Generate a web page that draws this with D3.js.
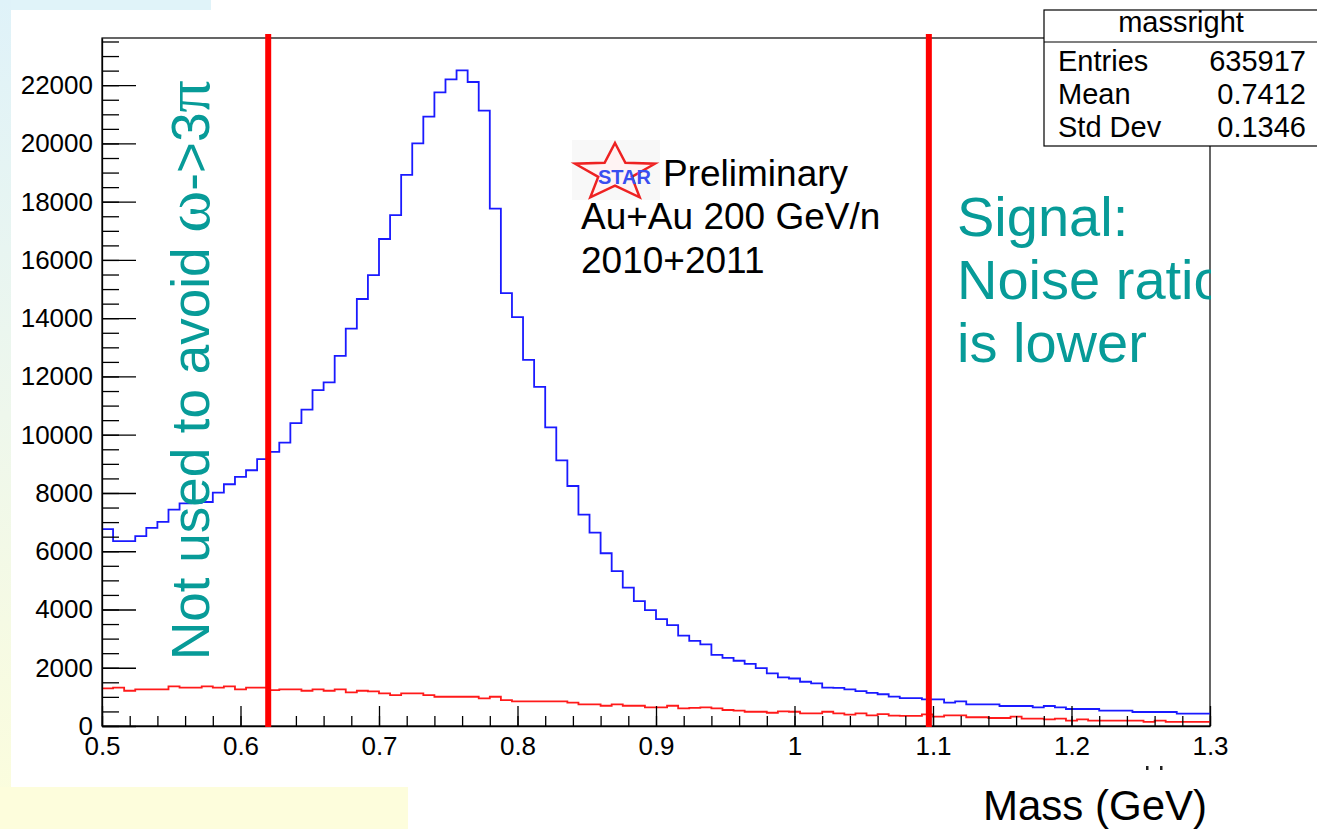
<!DOCTYPE html>
<html>
<head>
<meta charset="utf-8">
<script src="https://cdn.jsdelivr.net/npm/d3@7"></script>
<style>
  body { margin: 0; background: #fff; }
  svg { display: block; font-family: "Liberation Sans", Arial, sans-serif; }
</style>
</head>
<body>
<div id="chart"></div>
<script>
// histogram binning (GeV)
const massMin = 0.5;
const massMax = 1.3;
const binWidth = 0.008;

// blue: all pairs
const signalCounts = [
  6760, 6350, 6350, 6520, 6800, 7010, 7430, 7640, 7660, 7690,
  8010, 8300, 8550, 8780, 9160, 9410, 9730, 10400, 10860, 11530,
  11800, 12710, 13640, 14660, 15480, 16720, 17540, 18920, 20000, 20920,
  21750, 22200, 22510, 22110, 21130, 17760, 14860, 14040, 12570, 11640,
  10250, 9120, 8240, 7260, 6640, 5930, 5320, 4750, 4290, 3980,
  3670, 3460, 3100, 2920, 2800, 2440, 2340, 2240, 2130, 1990,
  1810, 1670, 1630, 1520, 1460, 1320, 1310, 1260, 1200, 1140,
  1090, 1010, 960, 960, 915, 915, 800, 846, 743, 743,
  743, 686, 686, 686, 640, 686, 640, 583, 583, 583,
  526, 526, 526, 480, 480, 480, 480, 423, 423, 423
];

// red: background
const backgroundCounts = [
  1290, 1315, 1210, 1260, 1260, 1260, 1360, 1315, 1315, 1360,
  1315, 1360, 1260, 1315, 1315, 1230, 1260, 1260, 1210, 1260,
  1210, 1260, 1155, 1210, 1190, 1120, 1060, 1120, 1120, 1060,
  1005, 1005, 1005, 1005, 950, 1005, 890, 845, 845, 845,
  845, 845, 800, 745, 745, 695, 745, 695, 695, 640,
  640, 695, 605, 620, 640, 605, 550, 530, 490, 490,
  455, 500, 490, 435, 435, 490, 435, 390, 435, 365,
  410, 355, 345, 345, 400, 320, 365, 365, 300, 300,
  275, 275, 320, 250, 250, 230, 250, 185, 230, 185,
  185, 185, 185, 185, 140, 185, 140, 140, 140, 140
];

const xTicks = [0.5, 0.6, 0.7, 0.8, 0.9, 1.0, 1.1, 1.2, 1.3];
const yTicks = [0, 2000, 4000, 6000, 8000, 10000, 12000, 14000, 16000, 18000, 20000, 22000];
const yMax = 23620;

const cutLines = [0.62, 1.097];

const statsTitle = "massright";
const statsNames = ["Entries", "Mean", "Std Dev"];
const statsValues = ["635917", "0.7412", "0.1346"];

const starLines = ["Preliminary", "Au+Au 200 GeV/n", "2010+2011"];
const noteLines = ["Signal:", "Noise ratio", "is lower"];

const W = 1317, H = 829;
const frame = { left: 102, right: 1210, top: 38, bottom: 726 };

const svg = d3.select("#chart").append("svg")
  .attr("width", W)
  .attr("height", H);

const defs = svg.append("defs");

const grad = defs.append("linearGradient")
  .attr("id", "stripGrad")
  .attr("x1", 0).attr("y1", 0).attr("x2", 0).attr("y2", 1);
grad.append("stop").attr("offset", "0%").attr("stop-color", "#dff2f9");
grad.append("stop").attr("offset", "50%").attr("stop-color", "#eef7ec");
grad.append("stop").attr("offset", "100%").attr("stop-color", "#fcfddc");

defs.append("clipPath").attr("id", "noteClip")
  .append("rect").attr("x", 0).attr("y", 0).attr("width", 1211).attr("height", H);

// slide background bits
svg.append("rect").attr("x", 0).attr("y", 0).attr("width", 211).attr("height", 10).attr("fill", "#e0f3f9");
svg.append("rect").attr("x", 0).attr("y", 0).attr("width", 11).attr("height", H).attr("fill", "url(#stripGrad)");
svg.append("rect").attr("x", 0).attr("y", 787).attr("width", 408).attr("height", 42).attr("fill", "#fdfddc");

const x = d3.scaleLinear().domain([massMin, massMax]).range([frame.left, frame.right]);
const y = d3.scaleLinear().domain([0, yMax]).range([frame.bottom, frame.top]);

// tips of ROOT's own axis title, the rest is hidden under the slide caption
svg.selectAll(".titleTip")
  .data([1146, 1160])
  .enter()
  .append("rect")
  .attr("class", "titleTip")
  .attr("x", d => d).attr("y", 766)
  .attr("width", 2.5).attr("height", 4)
  .attr("fill", "#222");

// frame
svg.append("rect")
  .attr("x", frame.left).attr("y", frame.top)
  .attr("width", frame.right - frame.left)
  .attr("height", frame.bottom - frame.top)
  .attr("fill", "none")
  .attr("stroke", "#000")
  .attr("stroke-width", 1.2);

// histograms
function stepPoints(counts) {
  const pts = counts.map((c, i) => [massMin + i * binWidth, c]);
  pts.push([massMax, counts[counts.length - 1]]);
  return pts;
}

const step = d3.line()
  .x(d => x(d[0]))
  .y(d => y(d[1]))
  .curve(d3.curveStepAfter);

svg.append("path")
  .datum(stepPoints(backgroundCounts))
  .attr("d", step)
  .attr("fill", "none")
  .attr("stroke", "#ff1a1a")
  .attr("stroke-width", 1.8);

svg.append("path")
  .datum(stepPoints(signalCounts))
  .attr("d", step)
  .attr("fill", "none")
  .attr("stroke", "#1a1aff")
  .attr("stroke-width", 1.8);

// axes, ROOT style: ticks inward
const yMinor = d3.range(0, yMax, 500);
svg.append("g")
  .attr("transform", `translate(${frame.left},0)`)
  .call(d3.axisLeft(y).tickValues(yMinor).tickSize(-17).tickSizeOuter(0).tickFormat(""))
  .call(g => g.select(".domain").remove())
  .call(g => g.selectAll("line").attr("stroke", "#000").attr("stroke-width", 1.3));

svg.append("g")
  .attr("transform", `translate(${frame.left},0)`)
  .call(d3.axisLeft(y).tickValues(yTicks).tickSize(-34).tickSizeOuter(0).tickPadding(9).tickFormat(d3.format("d")))
  .call(g => g.select(".domain").attr("stroke", "#000").attr("stroke-width", 1.3))
  .call(g => g.selectAll("line").attr("stroke", "#000").attr("stroke-width", 1.3))
  .call(g => g.selectAll("text")
    .attr("font-family", "Liberation Sans, Arial, sans-serif")
    .attr("font-size", 26)
    .attr("fill", "#000"));

const xMinor = d3.range(0, 41).map(i => massMin + i * 0.02);
svg.append("g")
  .attr("transform", `translate(0,${frame.bottom})`)
  .call(d3.axisBottom(x).tickValues(xMinor).tickSize(-10).tickSizeOuter(0).tickFormat(""))
  .call(g => g.select(".domain").remove())
  .call(g => g.selectAll("line").attr("stroke", "#000").attr("stroke-width", 1.3));

svg.append("g")
  .attr("transform", `translate(0,${frame.bottom})`)
  .call(d3.axisBottom(x).tickValues(xTicks).tickSize(-20).tickSizeOuter(0).tickPadding(11)
    .tickFormat(d => String(+d.toFixed(1))))
  .call(g => g.select(".domain").attr("stroke", "#000").attr("stroke-width", 1.3))
  .call(g => g.selectAll("line").attr("stroke", "#000").attr("stroke-width", 1.3))
  .call(g => g.selectAll("text")
    .attr("font-family", "Liberation Sans, Arial, sans-serif")
    .attr("font-size", 26)
    .attr("fill", "#000"));

// mass window cuts
svg.selectAll(".cut")
  .data(cutLines)
  .enter()
  .append("line")
  .attr("class", "cut")
  .attr("x1", d => x(d)).attr("x2", d => x(d))
  .attr("y1", 34).attr("y2", frame.bottom + 1)
  .attr("stroke", "#ff0000")
  .attr("stroke-width", 6);

// stats box
const stats = svg.append("g");
stats.append("rect")
  .attr("x", 1044).attr("y", 10)
  .attr("width", 300).attr("height", 136)
  .attr("fill", "#fff")
  .attr("stroke", "#000")
  .attr("stroke-width", 1.2);
stats.append("line")
  .attr("x1", 1044).attr("x2", W)
  .attr("y1", 42).attr("y2", 42)
  .attr("stroke", "#000")
  .attr("stroke-width", 1.2);
stats.append("text")
  .attr("x", 1181).attr("y", 32)
  .attr("text-anchor", "middle")
  .attr("font-size", 29)
  .text(statsTitle);
statsNames.forEach((name, i) => {
  stats.append("text")
    .attr("x", 1058).attr("y", 71 + i * 33)
    .attr("font-size", 29)
    .text(name);
  stats.append("text")
    .attr("x", 1306).attr("y", 71 + i * 33)
    .attr("text-anchor", "end")
    .attr("font-size", 29)
    .text(statsValues[i]);
});

// STAR logo + label
const logo = svg.append("g");
logo.append("rect")
  .attr("x", 572).attr("y", 140)
  .attr("width", 88).attr("height", 60)
  .attr("fill", "#f8f8f8");
const cx = 615, cy = 173, rx = 42, ry = 30;
const starPts = d3.range(10).map(i => {
  const a = -Math.PI / 2 + i * Math.PI / 5;
  const f = i % 2 === 0 ? 1 : 0.42;
  return [cx + Math.cos(a) * rx * f, cy + Math.sin(a) * ry * f];
});
logo.append("polygon")
  .attr("points", starPts.map(p => p.join(",")).join(" "))
  .attr("fill", "#fff3f3")
  .attr("stroke", "#ee2222")
  .attr("stroke-width", 2.5)
  .attr("stroke-linejoin", "miter");
logo.append("text")
  .attr("x", 598).attr("y", 184)
  .attr("font-size", 20)
  .attr("font-weight", "bold")
  .attr("fill", "#3a4ef0")
  .text("STAR");

svg.append("text")
  .attr("x", 663).attr("y", 186)
  .attr("font-size", 37)
  .text(starLines[0]);
svg.append("text")
  .attr("x", 581).attr("y", 229)
  .attr("font-size", 37)
  .text(starLines[1]);
svg.append("text")
  .attr("x", 581).attr("y", 273)
  .attr("font-size", 37)
  .text(starLines[2]);

// teal slide annotations
const teal = "#079b98";
const notes = svg.append("g").attr("clip-path", "url(#noteClip)");
noteLines.forEach((t, i) => {
  notes.append("text")
    .attr("x", 957).attr("y", 236 + i * 63)
    .attr("font-size", 56)
    .attr("fill", teal)
    .text(t);
});

const side = svg.append("text")
  .attr("transform", "translate(209,660) rotate(-90)")
  .attr("font-size", 53)
  .attr("fill", teal);
side.append("tspan").text("Not used to avoid ");
side.append("tspan").attr("font-family", "Liberation Serif, serif").attr("font-size", 64).text("ω");
side.append("tspan").text("->3");
side.append("tspan").attr("font-family", "Liberation Serif, serif").attr("font-size", 64).text("π");

// slide caption
svg.append("text")
  .attr("x", 983).attr("y", 820)
  .attr("font-size", 42)
  .attr("fill", "#000")
  .text("Mass (GeV)");
</script>
</body>
</html>
